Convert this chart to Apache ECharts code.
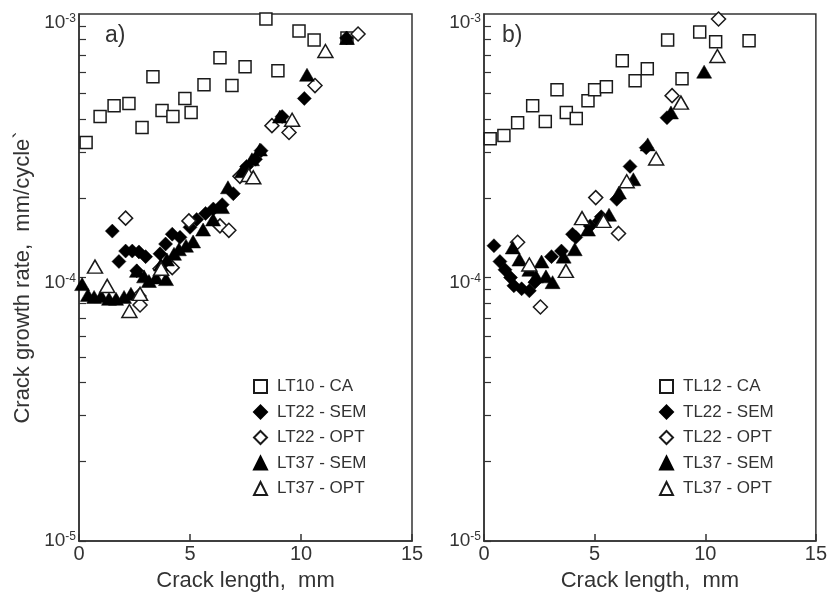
<!DOCTYPE html>
<html><head><meta charset="utf-8">
<script src="https://cdn.jsdelivr.net/npm/echarts@6/dist/echarts.min.js"></script>
<style>html,body{margin:0;padding:0;background:#fff}#c{width:830px;height:597px}</style>
</head><body><div id="c"></div>
<script>
// ---------- data ----------
const xTickValues = [0, 5, 10, 15];
const yTickValues = [1e-5,2e-5,3e-5,4e-5,5e-5,6e-5,7e-5,8e-5,9e-5,
                     1e-4,2e-4,3e-4,4e-4,5e-4,6e-4,7e-4,8e-4,9e-4,1e-3];
const namesA = ['LT10 - CA','LT22 - SEM','LT22 - OPT','LT37 - SEM','LT37 - OPT'];
const namesB = ['TL12 - CA','TL22 - SEM','TL22 - OPT','TL37 - SEM','TL37 - OPT'];

const lt10_ca = [[0.32,3.25e-4],[0.95,4.08e-4],[1.58,4.49e-4],[2.25,4.57e-4],[2.84,3.71e-4],[3.33,5.78e-4],
  [3.74,4.30e-4],[4.23,4.08e-4],[4.77,4.78e-4],[5.05,4.23e-4],[5.63,5.39e-4],[6.35,6.83e-4],[6.89,5.35e-4],
  [7.48,6.31e-4],[8.42,9.57e-4],[8.96,6.09e-4],[9.91,8.62e-4],[10.59,7.97e-4],[12.07,8.11e-4]];
const lt22_sem = [[1.5,1.50e-4],[1.8,1.15e-4],[2.1,1.26e-4],[2.4,1.26e-4],[2.6,1.06e-4],[2.7,1.25e-4],
  [3.0,1.20e-4],[3.65,1.23e-4],[3.9,1.34e-4],[4.2,1.46e-4],[4.55,1.42e-4],[5.0,1.55e-4],[5.3,1.66e-4],
  [5.7,1.75e-4],[6.05,1.82e-4],[6.45,1.89e-4],[6.95,2.08e-4],[7.55,2.64e-4],[7.95,2.81e-4],[8.2,3.03e-4],
  [9.15,4.08e-4],[10.15,4.78e-4],[12.05,8.11e-4]];
const lt22_opt = [[2.1,1.68e-4],[2.7,8.51e-5],[2.75,7.87e-5],[3.65,1.08e-4],[4.2,1.09e-4],[4.95,1.64e-4],
  [6.35,1.57e-4],[6.75,1.51e-4],[7.25,2.42e-4],[8.69,3.77e-4],[9.46,3.55e-4],[10.63,5.35e-4],[12.57,8.40e-4]];
const lt37_sem = [[0.14,9.44e-5],[0.4,8.59e-5],[0.68,8.44e-5],[1.0,8.5e-5],[1.35,8.3e-5],[1.67,8.3e-5],
  [2.03,8.44e-5],[2.34,8.67e-5],[2.61,1.06e-4],[2.93,1.01e-4],[3.15,9.7e-5],[3.47,1.0e-4],[3.69,1.12e-4],
  [3.92,9.86e-5],[3.96,1.17e-4],[4.28,1.23e-4],[4.5,1.28e-4],[4.82,1.32e-4],[5.14,1.37e-4],[5.59,1.52e-4],
  [6.04,1.66e-4],[6.44,1.85e-4],[6.71,2.2e-4],[7.34,2.53e-4],[7.79,2.81e-4],[8.15,3.06e-4],[9.05,4.08e-4],
  [10.27,5.88e-4],[12.07,8.11e-4]];
const lt37_opt = [[0.72,1.10e-4],[1.27,9.29e-5],[2.27,7.46e-5],[2.75,8.67e-5],[3.7,1.08e-4],[7.65,2.45e-4],
  [7.85,2.40e-4],[9.6,3.97e-4],[11.1,7.24e-4]];

const tl12_ca = [[0.28,3.36e-4],[0.9,3.46e-4],[1.52,3.87e-4],[2.2,4.49e-4],[2.77,3.91e-4],[3.3,5.16e-4],
  [3.72,4.23e-4],[4.17,4.01e-4],[4.7,4.69e-4],[5.0,5.16e-4],[5.53,5.30e-4],[6.25,6.64e-4],[6.83,5.58e-4],
  [7.38,6.20e-4],[8.3,7.97e-4],[8.95,5.68e-4],[9.75,8.55e-4],[10.47,7.84e-4],[11.98,7.91e-4]];
const tl22_sem = [[0.45,1.32e-4],[0.72,1.15e-4],[0.95,1.07e-4],[1.2,1.0e-4],[1.35,9.3e-5],[1.7,9.06e-5],
  [2.05,8.9e-5],[2.3,9.6e-5],[3.05,1.2e-4],[3.5,1.26e-4],[4.0,1.46e-4],[4.15,1.42e-4],[4.8,1.57e-4],
  [5.2,1.64e-4],[5.3,1.7e-4],[6.0,1.98e-4],[6.6,2.64e-4],[7.33,3.11e-4],[8.27,4.04e-4]];
const tl22_opt = [[1.52,1.36e-4],[2.55,7.73e-5],[5.05,2.01e-4],[6.08,1.47e-4],[8.5,4.9e-4],[10.6,9.57e-4]];
const tl37_sem = [[1.3,1.30e-4],[1.6,1.17e-4],[2.05,1.07e-4],[2.35,1.01e-4],[2.6,1.15e-4],[2.8,1.01e-4],
  [3.1,9.6e-5],[3.6,1.2e-4],[4.1,1.28e-4],[4.7,1.52e-4],[5.3,1.64e-4],[5.65,1.73e-4],[6.1,2.10e-4],
  [6.75,2.36e-4],[7.4,3.2e-4],[8.45,4.23e-4],[9.95,6.04e-4]];
const tl37_opt = [[2.05,1.12e-4],[3.7,1.06e-4],[4.43,1.68e-4],[5.4,1.64e-4],[6.45,2.32e-4],[7.78,2.83e-4],
  [8.9,4.61e-4],[10.55,6.93e-4]];

// ---------- chart ----------
const FONT = 'Liberation Sans, Arial, sans-serif';
const TXT = '#333';
const chart = echarts.init(document.getElementById('c'), null, {renderer: 'canvas'});

const kinds = [
  {symbol: 'rect', size: 12, filled: false},
  {symbol: 'diamond', size: 14, filled: true},
  {symbol: 'diamond', size: 14, filled: false},
  {symbol: 'triangle', size: [15, 13], filled: true},
  {symbol: 'triangle', size: [15, 13], filled: false}
];
function mk(name, data, gi, k) {
  const kd = kinds[k];
  return {
    type: 'scatter', name: name, data: data, xAxisIndex: gi, yAxisIndex: gi,
    symbol: kd.symbol, symbolSize: kd.size,
    itemStyle: kd.filled ? {color: '#000', borderColor: '#000', borderWidth: 0.5, opacity: 1}
                         : {color: '#fff', borderColor: '#1a1a1a', borderWidth: 1.5, opacity: 1},
    emphasis: {disabled: true}, silent: true
  };
}
function xAx(gi) {
  return {
    type: 'value', gridIndex: gi, min: 0, max: 15, interval: 5,
    name: 'Crack length,  mm', nameLocation: 'middle', nameGap: 29,
    nameTextStyle: {fontSize: 22, color: TXT, fontFamily: FONT},
    axisLine: {lineStyle: {color: '#333', width: 1.5}},
    axisTick: {inside: true, length: 7, lineStyle: {color: '#333', width: 1.5}, customValues: xTickValues},
    axisLabel: {fontSize: 20, color: TXT, fontFamily: FONT, margin: 3, customValues: xTickValues},
    splitLine: {show: false}
  };
}
// extra top spacer (px) per exponent, shifting the label down as in the original
const labelShift = {'-3': 18, '-4': 10, '-5': 0};
function yAx(gi) {
  const o = {
    type: 'log', logBase: 10, gridIndex: gi, min: 1e-5, max: 1e-3,
    axisLine: {lineStyle: {color: '#333', width: 1.5}},
    axisTick: {inside: true, length: 7, lineStyle: {color: '#333', width: 1.2}, customValues: yTickValues},
    axisLabel: {
      margin: 3, fontFamily: FONT,
      formatter: v => {
        const e = String(Math.round(Math.log10(v)));
        const sp = labelShift[e] || 0;
        const main = '{b|10}{s|' + e + '}';
        return sp ? '{g' + sp + '| }\n' + main : main;
      },
      rich: {
        b: {fontSize: 19, color: TXT, fontFamily: FONT, lineHeight: 20},
        s: {fontSize: 12, color: TXT, fontFamily: FONT, verticalAlign: 'top', lineHeight: 20},
        g18: {fontSize: 8, lineHeight: 18},
        g10: {fontSize: 8, lineHeight: 10}
      }
    },
    splitLine: {show: false}
  };
  if (gi === 0) {
    o.name = 'Crack growth rate,  mm/cycle`';
    o.nameLocation = 'middle';
    o.nameGap = 45;
    o.nameTextStyle = {fontSize: 22, color: TXT, fontFamily: FONT};
  }
  return o;
}
function legend(names, left) {
  return {
    orient: 'vertical', left: left, top: 373, data: names,
    itemWidth: 13, itemHeight: 13, itemGap: 8.5,
    textStyle: {fontSize: 17, color: TXT, fontFamily: FONT, lineHeight: 17, padding: [0, 0, 0, 5]},
    selectedMode: false
  };
}

const series = [];
const dataA = [lt10_ca, lt22_sem, lt22_opt, lt37_sem, lt37_opt];
const dataB = [tl12_ca, tl22_sem, tl22_opt, tl37_sem, tl37_opt];
namesA.forEach((n, i) => series.push(mk(n, dataA[i], 0, i)));
namesB.forEach((n, i) => series.push(mk(n, dataB[i], 1, i)));

chart.setOption({
  animation: false,
  backgroundColor: '#fff',
  grid: [
    {left: 79, top: 14, width: 333, height: 529, show: true, borderColor: '#333', borderWidth: 1.5, backgroundColor: 'transparent'},
    {left: 484, top: 14, width: 336, height: 529, show: true, borderColor: '#333', borderWidth: 1.5, backgroundColor: 'transparent'}
  ],
  xAxis: [xAx(0), xAx(1)],
  yAxis: [yAx(0), yAx(1)],
  legend: [legend(namesA, 248), legend(namesB, 654)],
  graphic: [
    {type: 'text', left: 105, top: 24, style: {text: 'a)', fontSize: 23, fill: TXT, fontFamily: FONT}},
    {type: 'text', left: 502, top: 24, style: {text: 'b)', fontSize: 23, fill: TXT, fontFamily: FONT}}
  ],
  series: series
});
</script>
</body></html>
